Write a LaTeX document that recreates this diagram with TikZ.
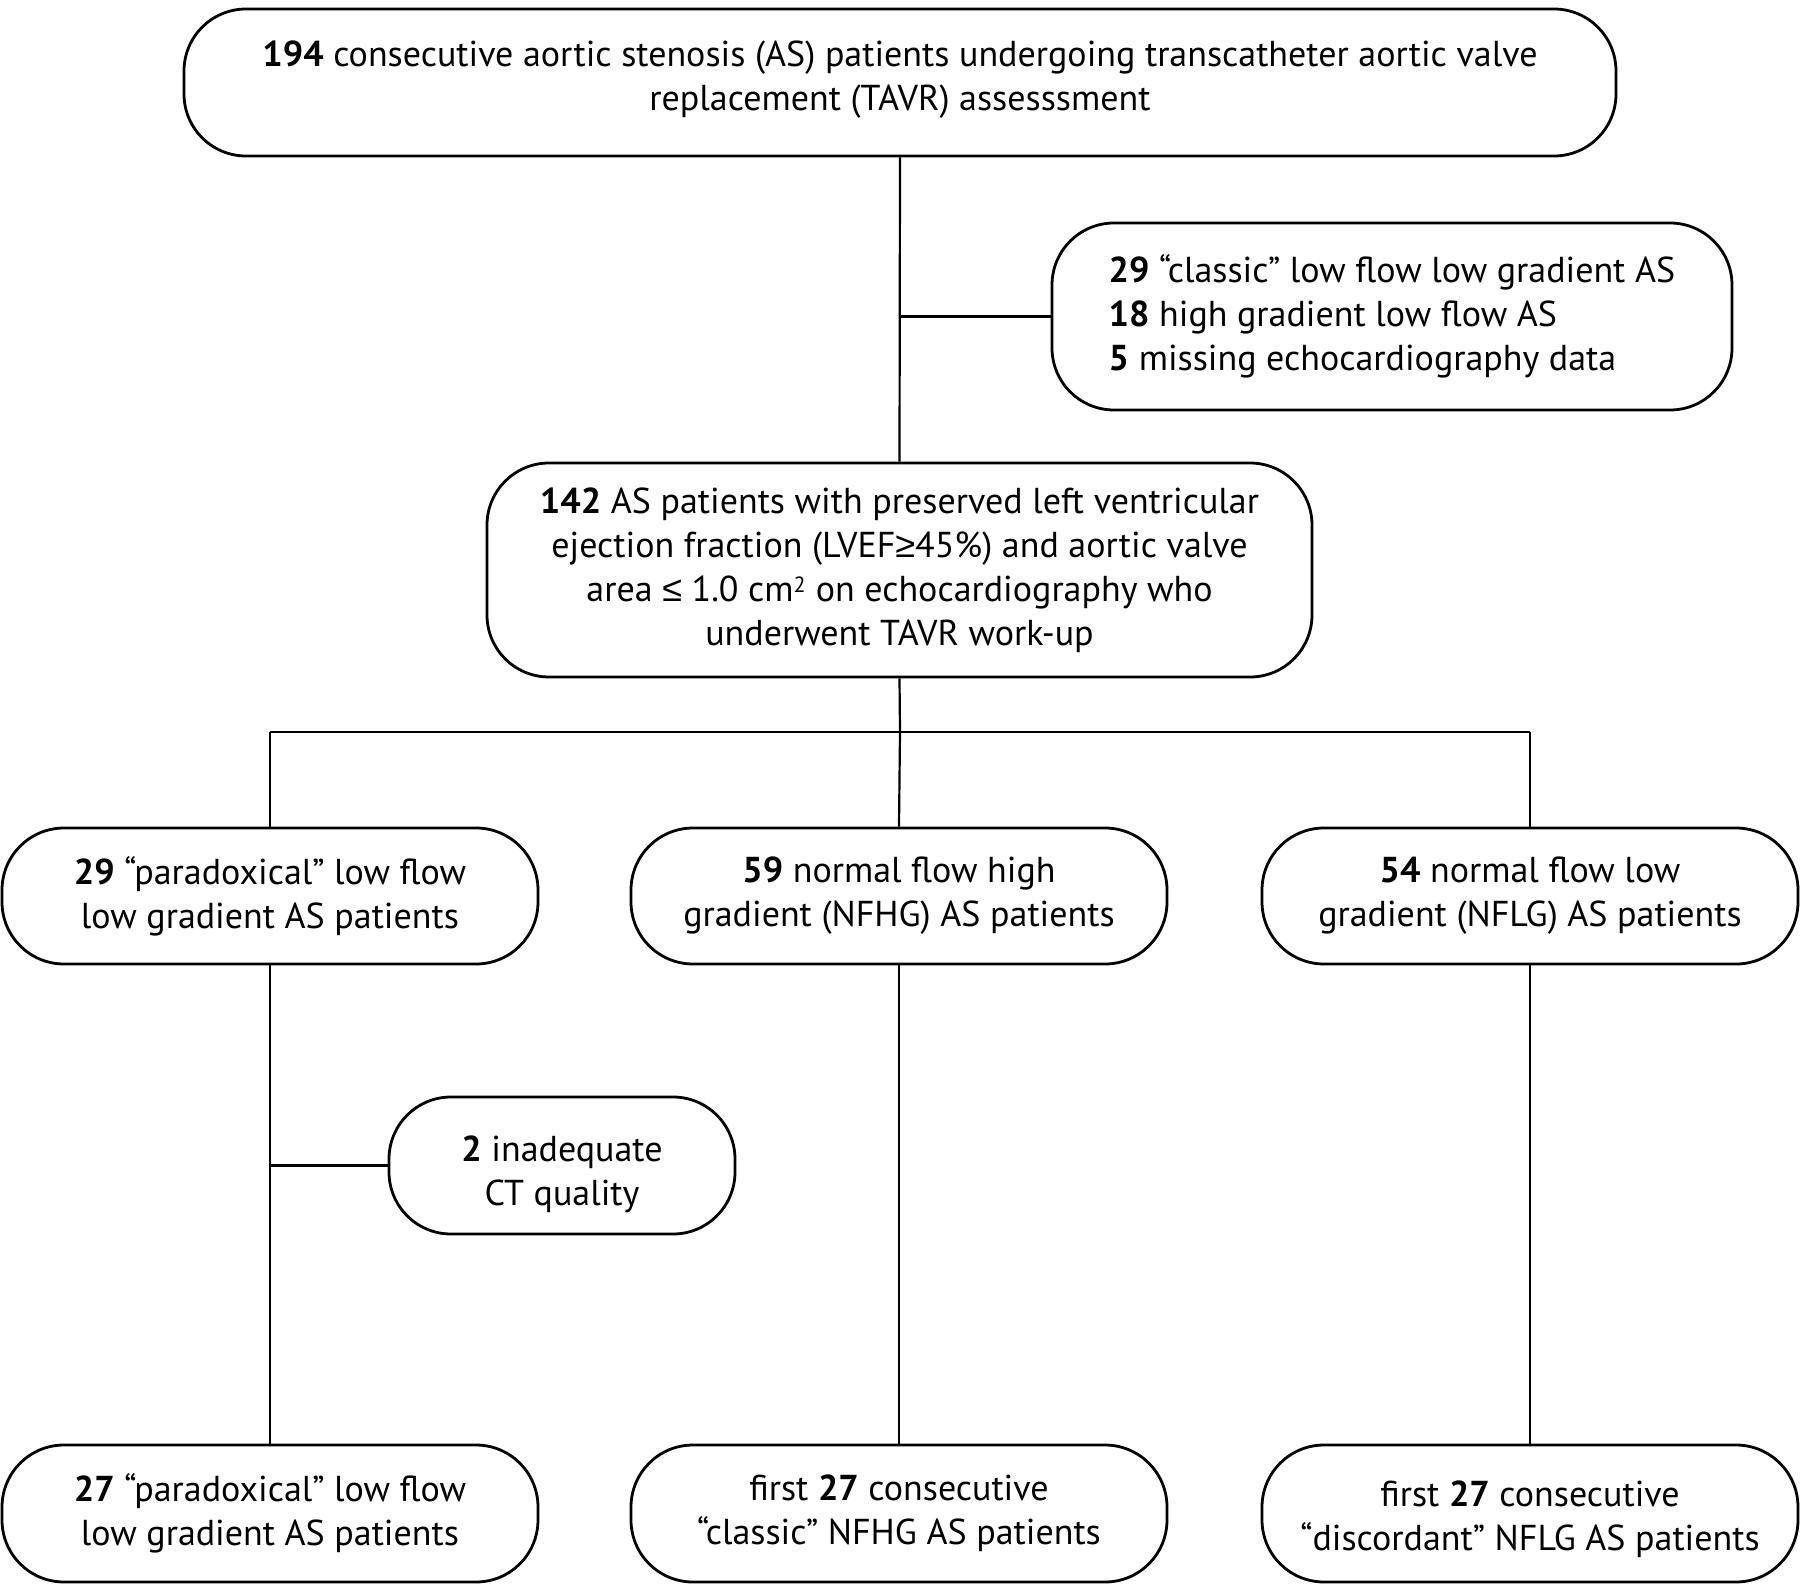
\documentclass[tikz,border=0pt]{standalone}
\usepackage{fontspec}
\setmainfont{PT Sans}
\newfontfamily\symfont{Liberation Sans}
\begin{document}
\begin{tikzpicture}[x=1pt,y=-1pt,
  box/.style={draw=black, line width=2.8pt, rounded corners=62pt, fill=white,
    inner sep=0pt, align=center, font=\fontsize{36}{44}\selectfont},
  boxtext/.style={inner sep=0pt, align=center, font=\fontsize{36}{44}\selectfont},
  link/.style={line width=2.2pt}]
\useasboundingbox (0,0) rectangle (1800,1584);
\node[box, minimum width=1432pt, minimum height=147pt] (top) at (900,82.5) {};
\node[boxtext] (topt) at ([yshift=3pt]top.center)
  {\textbf{194} consecutive aortic stenosis (AS) patients undergoing transcatheter aortic valve\\replacement (TAVR) assesssment};
\node[box, minimum width=680pt, minimum height=187pt, align=left] (ex1) at (1392,316.5)
  {\textbf{29} “classic” low flow low gradient AS\\\textbf{18} high gradient low flow AS\\\textbf{5} missing echocardiography data};
\node[box, minimum width=825pt, minimum height=214pt] (mid) at (899.5,570)
  {\textbf{142} AS patients with preserved left ventricular\\ejection fraction (LVEF{\symfont ≥}45\%) and aortic valve\\area {\symfont ≤} 1.0 cm\textsuperscript{\fontsize{22}{22}\selectfont 2} on echocardiography who\\underwent TAVR work-up};
\node[box, minimum width=536pt, minimum height=136pt] (L) at (270,896)
  {\textbf{29} “paradoxical” low flow\\low gradient AS patients};
\node[box, minimum width=536pt, minimum height=136pt] (M) at (899,896)
  {\textbf{59} normal flow high\\gradient (NFHG) AS patients};
\node[box, minimum width=536pt, minimum height=136pt] (R) at (1530,896)
  {\textbf{54} normal flow low\\gradient (NFLG) AS patients};
\node[box, minimum width=346pt, minimum height=137pt] (ex2) at (562,1165.5) {};
\node[boxtext] (ex2t) at ([yshift=-9pt]ex2.center)
  {\textbf{2} inadequate\\CT quality};
\node[box, minimum width=536pt, minimum height=137pt] (BL) at (270,1513.5)
  {\textbf{27} “paradoxical” low flow\\low gradient AS patients};
\node[box, minimum width=536pt, minimum height=137pt] (BM) at (899,1513.5)
  {first \textbf{27} consecutive\\“classic” NFHG AS patients};
\node[box, minimum width=536pt, minimum height=137pt] (BR) at (1530,1513.5) {};
\node[boxtext] (BRt) at ([yshift=-6pt]BR.center)
  {first \textbf{27} consecutive\\“discordant” NFLG AS patients};
\coordinate (j1) at (top.south |- ex1.west);
\coordinate (j2) at (900,732);
\coordinate (jL) at (270,732);
\coordinate (jR) at (1530,732);
\coordinate (j3) at (L.south |- ex2.west);
\draw[link] (top.south) -- (mid.north);
\draw[link] (j1) -- (ex1.west);
\draw[link] (mid.south) -- (j2);
\draw[link] (jL) -- (jR);
\draw[link] (jL) -- (L.north);
\draw[link] (j2) -- (M.north);
\draw[link] (jR) -- (R.north);
\draw[link] (L.south) -- (BL.north);
\draw[link] (j3) -- (ex2.west);
\draw[link] (M.south) -- (BM.north);
\draw[link] (R.south) -- (BR.north);
\end{tikzpicture}
\end{document}
